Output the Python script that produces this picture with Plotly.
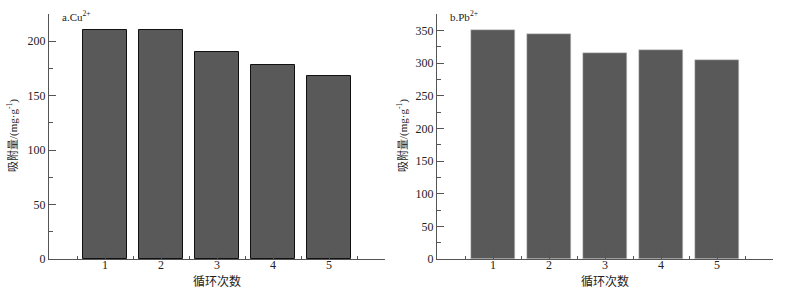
import plotly.graph_objects as go

cycles = [1, 2, 3, 4, 5]
cu_values = [210, 210, 190, 178, 168]
pb_values = [350, 345, 315, 320, 304]
x_tick_vals = [0, 1, 2, 3, 4, 5, 6]
x_tick_text = ["", "1", "2", "3", "4", "5", ""]
x_minor_vals = [0.5, 1.5, 2.5, 3.5, 4.5, 5.5]
cu_yticks = [0, 50, 100, 150, 200]
pb_yticks = [0, 50, 100, 150, 200, 250, 300, 350]

BAR = "#595959"
AX = "#555555"
FONT = "Liberation Serif, Times New Roman, serif"
CJK = "Noto Sans CJK SC"

fig = go.Figure()
fig.add_trace(go.Bar(x=cycles, y=cu_values, width=0.8, marker=dict(color=BAR, line=dict(color="#111111", width=1)),
                     xaxis="x", yaxis="y", showlegend=False))
fig.add_trace(go.Bar(x=cycles, y=pb_values, width=0.8, marker=dict(color=BAR, line=dict(color="#d0d0d0", width=0.5)),
                     xaxis="x2", yaxis="y2", showlegend=False))

def xax(domain, anchor):
    return dict(domain=domain, anchor=anchor, range=[0, 6], tickmode="array", tickvals=x_tick_vals,
                ticktext=x_tick_text, ticks="inside", ticklen=7, tickcolor=AX, tickwidth=1,
                showline=True, linecolor=AX, linewidth=1, showgrid=False, zeroline=False,
                ticklabelstandoff=-5, automargin=False,
                tickfont=dict(family=FONT, size=12, color="#222"),
                minor=dict(tickvals=x_minor_vals, ticks="inside", ticklen=3, tickcolor=AX))

def yax(domain, anchor, rng, vals):
    return dict(domain=domain, anchor=anchor, range=rng, tickmode="array", tickvals=vals,
                ticks="inside", ticklen=7, tickcolor=AX, tickwidth=1,
                showline=True, linecolor=AX, linewidth=1, showgrid=False, zeroline=False,
                automargin=False,
                tickfont=dict(family=FONT, size=12, color="#222"),
                minor=dict(dtick=25, tick0=0, ticks="inside", ticklen=4, tickcolor=AX))

ytitle = "吸附量<span style='font-family:Liberation Serif'>/(mg·g<sup>-1</sup>)</span>"

ydom = [1 - 259 / 296, 1 - 14 / 296]
fig.update_layout(
    template="none",
    width=785, height=296, margin=dict(l=0, r=0, t=0, b=0),
    paper_bgcolor="white", plot_bgcolor="white", bargap=0,
    xaxis=xax([49 / 785, 385 / 785], "y"),
    yaxis=yax(ydom, "x", [0, 225], cu_yticks),
    xaxis2=xax([437 / 785, 773 / 785], "y2"),
    yaxis2=yax(ydom, "x2", [0, 375], pb_yticks),
    annotations=[
        dict(text="a.Cu<sup>2+</sup>", x=60 / 785, y=1 - 16 / 296, xref="paper", yref="paper",
             xanchor="left", yanchor="middle", showarrow=False, font=dict(family=FONT, size=11, color="#222")),
        dict(text="b.Pb<sup>2+</sup>", x=448 / 785, y=1 - 16 / 296, xref="paper", yref="paper",
             xanchor="left", yanchor="middle", showarrow=False, font=dict(family=FONT, size=11, color="#222")),
        dict(text=ytitle, x=12 / 785, y=1 - 136 / 296, xref="paper", yref="paper",
             textangle=-90, xanchor="center", yanchor="middle", showarrow=False,
             font=dict(family=CJK, size=11, color="#222")),
        dict(text=ytitle, x=402 / 785, y=1 - 136 / 296, xref="paper", yref="paper",
             textangle=-90, xanchor="center", yanchor="middle", showarrow=False,
             font=dict(family=CJK, size=11, color="#222")),
        dict(text="循环次数", x=217 / 785, y=1 - 280 / 296, xref="paper", yref="paper",
             xanchor="center", yanchor="middle", showarrow=False, font=dict(family=CJK, size=12, color="#222")),
        dict(text="循环次数", x=605 / 785, y=1 - 280 / 296, xref="paper", yref="paper",
             xanchor="center", yanchor="middle", showarrow=False, font=dict(family=CJK, size=12, color="#222")),
    ],
)
fig.write_html("out.html", config={"displayModeBar": False},
               post_script="document.body.style.margin='0';document.body.style.overflow='hidden';")
